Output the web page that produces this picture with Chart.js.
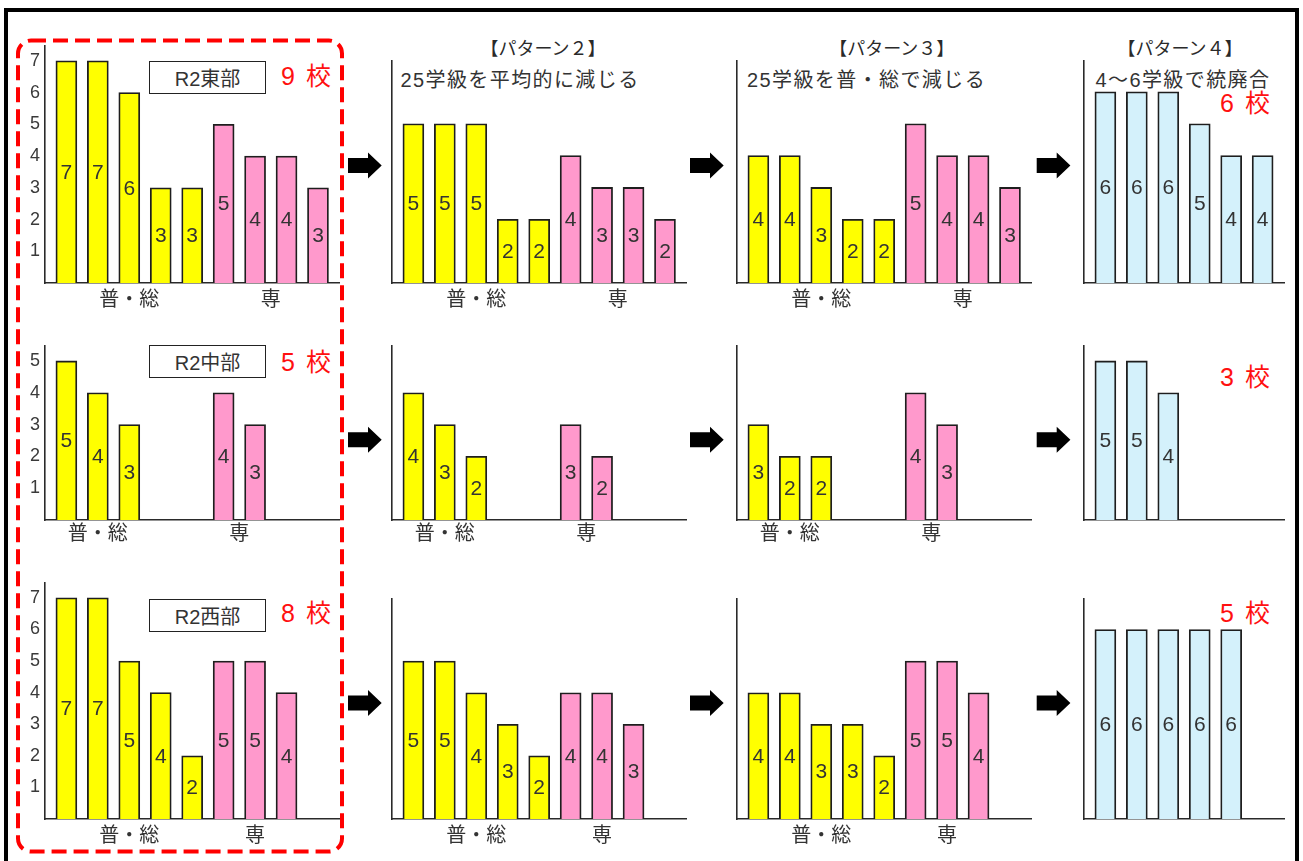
<!DOCTYPE html>
<html><head><meta charset="utf-8">
<script src="https://cdn.jsdelivr.net/npm/chart.js@4/dist/chart.umd.min.js"></script>
<style>
html,body{margin:0;padding:0;background:#fff;}
body{width:1303px;height:861px;overflow:hidden;position:relative;font-family:"Liberation Sans","Noto Sans CJK JP",sans-serif;color:#333;}
canvas{position:absolute;}
.t{position:absolute;white-space:nowrap;line-height:1;transform:translate(-50%,-50%);}
.l{position:absolute;white-space:nowrap;line-height:1;transform:translateY(-50%);}
.box{position:absolute;box-sizing:border-box;border:1.5px solid #222;display:flex;align-items:center;justify-content:center;font-size:20px;color:#333;background:#fff;}
.red{color:#ff1010;font-size:25px;letter-spacing:2px;}
.title{font-size:18px;font-family:"Noto Sans CJK JP",sans-serif;color:#2a2a2a;}
.note{font-size:20px;letter-spacing:1.4px;color:#333;}
#frame{position:absolute;left:4px;top:8px;width:1295px;height:900px;box-sizing:border-box;border:4px solid #000;}
</style></head><body>
<div id="frame"></div>
<svg id="deco" width="1303" height="861" style="position:absolute;left:0;top:0"></svg>
<div id="texts"></div>
<script>
// ---------------- data ----------------
const groupNames = ['普・総', '専'];
const senStart = 5;                 // slot where 専 bars begin
const yTicksTall = [1, 2, 3, 4, 5, 6, 7];
const yTicksMid = [1, 2, 3, 4, 5];
const regionNames = ['R2東部', 'R2中部', 'R2西部'];
const schoolCounts = [9, 5, 8];
const pattern4Counts = [6, 3, 5];
const patternTitles = ['【パターン２】', '【パターン３】', '【パターン４】'];
const patternNotes = ['25学級を平均的に減じる', '25学級を普・総で減じる', '4～6学級で統廃合'];

// R2 (current)
const eastGen = [7, 7, 6, 3, 3];      const eastSen = [5, 4, 4, 3];
const centralGen = [5, 4, 3];         const centralSen = [4, 3];
const westGen = [7, 7, 5, 4, 2];      const westSen = [5, 5, 4];
// Pattern 2
const p2EastGen = [5, 5, 5, 2, 2];    const p2EastSen = [4, 3, 3, 2];
const p2CentralGen = [4, 3, 2];       const p2CentralSen = [3, 2];
const p2WestGen = [5, 5, 4, 3, 2];    const p2WestSen = [4, 4, 3];
// Pattern 3
const p3EastGen = [4, 4, 3, 2, 2];    const p3EastSen = [5, 4, 4, 3];
const p3CentralGen = [3, 2, 2];       const p3CentralSen = [4, 3];
const p3WestGen = [4, 4, 3, 3, 2];    const p3WestSen = [5, 5, 4];
// Pattern 4
const p4East = [6, 6, 6, 5, 4, 4];
const p4Central = [5, 5, 4];
const p4West = [6, 6, 6, 6, 6];

// ---------------- layout / style ----------------
const YELLOW = '#ffff00', PINK = '#ff99cc', BLUE = '#d4f1fb';
const colAxisX = [45, 392, 737, 1084];
const colAreaW = [295, 295, 295, 201];
const rowBase = [283, 520.5, 819.5];
const areaTop = [[45, 60, 60, 60], [345, 345, 345, 345], [582, 598, 598, 598]];
const yMax = [[7.5, 7, 7, 7], [5.5, 5.5, 5.5, 5.5], [7.5, 7, 7, 7]];
const X_MIN = -0.68, PX_PER_SLOT = 31.45;
const X_AXIS_H = 32;

const panels = [
  [[eastGen, eastSen], [p2EastGen, p2EastSen], [p3EastGen, p3EastSen], [p4East]],
  [[centralGen, centralSen], [p2CentralGen, p2CentralSen], [p3CentralGen, p3CentralSen], [p4Central]],
  [[westGen, westSen], [p2WestGen, p2WestSen], [p3WestGen, p3WestSen], [p4West]]
];

const valueLabels = {
  id: 'valueLabels',
  afterDatasetsDraw(chart) {
    const ctx = chart.ctx;
    ctx.save();
    ctx.font = '21px "Liberation Sans", Arial, sans-serif';
    ctx.fillStyle = '#333';
    ctx.textAlign = 'center';
    ctx.textBaseline = 'middle';
    chart.data.datasets.forEach((ds, di) => {
      chart.getDatasetMeta(di).data.forEach((el, i) => {
        ctx.fillText(String(ds.data[i].y), el.x, (el.y + el.base) / 2 + 1);
      });
    });
    ctx.restore();
  }
};

function mean(a) { return a.reduce((s, v) => s + v, 0) / a.length; }

function makePanel(r, c) {
  const series = panels[r][c];
  const isP4 = c === 3;
  const datasets = [];
  const centers = [];
  if (isP4) {
    datasets.push({ values: series[0], start: 0, color: BLUE });
  } else {
    datasets.push({ values: series[0], start: 0, color: YELLOW });
    datasets.push({ values: series[1], start: senStart, color: PINK });
    datasets.forEach(d => centers.push(mean(d.values.map((v, i) => d.start + i))));
  }
  const yW = c === 0 ? 45 : 4;
  const top = areaTop[r][c];
  const areaH = rowBase[r] - top;
  const cv = document.createElement('canvas');
  cv.width = yW + colAreaW[c];
  cv.height = areaH + X_AXIS_H;
  cv.style.left = (colAxisX[c] - yW) + 'px';
  cv.style.top = top + 'px';
  document.body.appendChild(cv);
  const yt = r === 1 ? yTicksMid : yTicksTall;
  new Chart(cv, {
    type: 'bar',
    data: {
      datasets: datasets.map(d => ({
        data: d.values.map((v, i) => ({ x: d.start + i, y: v })),
        backgroundColor: d.color,
        borderColor: '#1e1e1e',
        borderWidth: 1.8,
        barThickness: 21,
        grouped: false
      }))
    },
    options: {
      responsive: false, animation: false, devicePixelRatio: 1,
      layout: { padding: 0 },
      plugins: { legend: { display: false }, tooltip: { enabled: false } },
      scales: {
        x: {
          type: 'linear', offset: false, min: X_MIN, max: X_MIN + colAreaW[c] / PX_PER_SLOT,
          grid: { display: false, drawTicks: false },
          border: { display: true, color: '#2a2a2a', width: 1.6 },
          ticks: {
            display: !isP4, autoSkip: false, maxRotation: 0,
            padding: r === 1 ? 0.5 : 3,
            color: '#333',
            font: { family: '"Noto Sans CJK JP", sans-serif', size: 20 },
            callback: (v, i) => groupNames[i]
          },
          afterBuildTicks: sc => { sc.ticks = centers.map(v => ({ value: v })); },
          afterFit: sc => { sc.height = X_AXIS_H; sc.paddingLeft = 0; sc.paddingRight = 0; sc.paddingTop = 0; sc.paddingBottom = 0; }
        },
        y: {
          min: 0, max: yMax[r][c], offset: false,
          grid: { display: false, drawTicks: false },
          border: { display: true, color: '#2a2a2a', width: 1.6 },
          ticks: {
            display: c === 0, padding: 5, color: '#3a3a3a',
            font: { family: '"Liberation Sans", Arial, sans-serif', size: 18 }
          },
          afterBuildTicks: sc => { sc.ticks = yt.map(v => ({ value: v })); },
          afterFit: sc => { sc.width = yW; sc.paddingLeft = 0; sc.paddingRight = 0; sc.paddingTop = 0; sc.paddingBottom = 0; }
        }
      }
    },
    plugins: [valueLabels]
  });
}

for (let r = 0; r < 3; r++) for (let c = 0; c < 4; c++) makePanel(r, c);

// ---------------- decorations ----------------
const svgNS = 'http://www.w3.org/2000/svg';
const svg = document.getElementById('deco');
function el(tag, attrs) { const e = document.createElementNS(svgNS, tag); for (const k in attrs) e.setAttribute(k, attrs[k]); svg.appendChild(e); return e; }
el('rect', { x: 18, y: 40.5, width: 324, height: 811, rx: 13, ry: 13, fill: 'none', stroke: '#ff0000', 'stroke-width': 4, 'stroke-dasharray': '15 7' });
const arrowRowY = [165.5, 439.7, 703];
const arrowColX = [348, 690, 1036.7];
arrowRowY.forEach(cy => arrowColX.forEach(x0 => {
  const pts = [[x0, cy - 7.5], [x0 + 20, cy - 7.5], [x0 + 20, cy - 13], [x0 + 33.7, cy], [x0 + 20, cy + 13], [x0 + 20, cy + 7.5], [x0, cy + 7.5]];
  el('polygon', { points: pts.map(p => p.join(',')).join(' '), fill: '#000' });
}));

const T = document.getElementById('texts');
function txt(cls, s, x, y) { const d = document.createElement('div'); d.className = cls; d.textContent = s; d.style.left = x + 'px'; d.style.top = y + 'px'; T.appendChild(d); return d; }
// titles and notes
const titleX = [543, 891.7, 1180];
const noteX = [400.5, 747, 1095.5];
patternTitles.forEach((s, i) => txt('t title', s, titleX[i], 46.7));
patternNotes.forEach((s, i) => txt('l note', s, noteX[i], 80));
// region boxes
const boxTop = [61, 345, 598.5];
regionNames.forEach((s, i) => {
  const d = document.createElement('div');
  d.className = 'box'; d.textContent = s;
  d.style.left = '149px'; d.style.top = boxTop[i] + 'px'; d.style.width = '117px'; d.style.height = '33px';
  T.appendChild(d);
});
// school counts
const countY = [76, 361.7, 613];
schoolCounts.forEach((n, i) => txt('t red', n + ' 校', 307, countY[i]));
const p4CountY = [103, 376.7, 613.3];
pattern4Counts.forEach((n, i) => txt('t red', n + ' 校', 1246, p4CountY[i]));
</script>
</body></html>
